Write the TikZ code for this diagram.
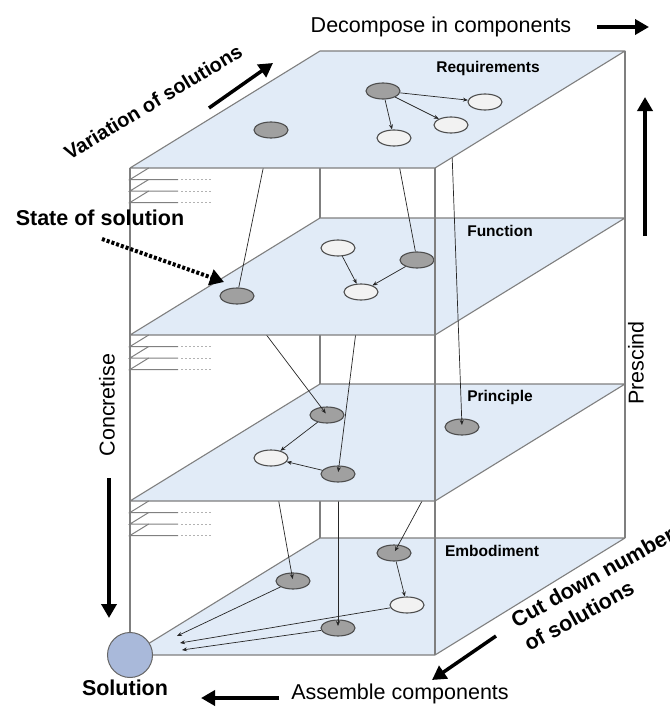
\documentclass[tikz,border=0pt]{standalone}
\usepackage{fontspec}
\setmainfont{Liberation Sans}
\usetikzlibrary{arrows.meta,shapes.geometric}
\definecolor{planefill}{HTML}{E1EBF7}
\definecolor{planeedge}{HTML}{7F7F7F}
\definecolor{gnodefill}{HTML}{A0A0A0}
\definecolor{wnodefill}{HTML}{F2F2F2}
\definecolor{nodeedge}{HTML}{4D4D4D}
\definecolor{solfill}{HTML}{A9B9DA}
\pgfdeclarelayer{back}
\pgfdeclarelayer{pe}\pgfdeclarelayer{ce}
\pgfdeclarelayer{pp}\pgfdeclarelayer{cp}
\pgfdeclarelayer{pf}\pgfdeclarelayer{cf}
\pgfdeclarelayer{pr}
\pgfsetlayers{back,pe,ce,pp,cp,pf,cf,pr,main}
\tikzset{
 plane/.style={fill=planefill,draw=planeedge,line width=1.1pt,line join=round},
 gnode/.style={ellipse,fill=gnodefill,draw=nodeedge,line width=1.1pt,minimum width=34pt,minimum height=16pt,inner sep=0pt},
 wnode/.style={gnode,fill=wnodefill},
 link/.style={draw=black!85,line width=0.7pt,-{Stealth[length=5pt,width=4pt]}},
 plainlink/.style={draw=black!85,line width=0.7pt},
 droplink/.style={link,shorten >=2pt},
 boxedge/.style={draw=planeedge,line width=1.1pt},
 bigarrow/.style={line width=3.5pt,-{Triangle[length=14pt,width=15pt]}},
 biglabel/.style={font=\fontsize{21.5}{27}\selectfont},
 boldlabel/.style={font=\fontsize{21.5}{27}\selectfont\bfseries},
 planelabel/.style={font=\fontsize{15.5}{18}\selectfont\bfseries},
 stackline/.style={draw=black!50,line width=1pt},
 stackdots/.style={draw=black!30,line width=1pt,dash pattern=on 2pt off 2pt},
}
\newcommand\drawplane[1]{\draw[plane] (130,#1) -- (435,#1) -- (625,#1-117) -- (320,#1-117) -- cycle;}
\newcommand\stackmarks[1]{%
 \foreach \i in {1,2,3}{%
  \pgfmathsetmacro\yy{#1+11.5*\i}
  \draw[stackline] (148.7,\yy-11.5) -- (130,\yy) -- (178,\yy);
  \draw[stackdots] (181,\yy) -- (212,\yy);
 }}
\begin{document}
\begin{tikzpicture}[x=1pt,y=-1pt]
\useasboundingbox (0,0) rectangle (669,709);
% back edges
\begin{pgfonlayer}{back}
 \draw[boxedge] (320,51) -- (320,538);
 \draw[boxedge] (625,51) -- (625,538);
\end{pgfonlayer}
% Requirements plane
\begin{pgfonlayer}{pr}
 \drawplane{168}
 \node[gnode] (r1) at (383,91) {};
 \node[wnode] (r2) at (485,102) {};
 \node[wnode] (r3) at (451,125) {};
 \node[wnode] (r4) at (394,138) {};
 \node[gnode] (r5) at (271,130) {};
 \draw[link] (r1) -- (r2);
 \draw[link] (r1) -- (r3);
 \draw[link] (r1) -- (r4);
 \node[planelabel] (lreq) at (488,68) {Requirements};
\end{pgfonlayer}
% Function plane
\begin{pgfonlayer}{pf}
 \drawplane{335}
 \node[wnode] (f1) at (338,248) {};
 \node[gnode] (f2) at (417,260) {};
 \node[gnode] (f3) at (237,296) {};
 \node[wnode] (f4) at (361,292) {};
 \draw[link] (f1) -- (f4);
 \draw[link] (f2) -- (f4);
 \node[planelabel] (lfun) at (500,231) {Function};
\end{pgfonlayer}
% Principle plane
\begin{pgfonlayer}{pp}
 \drawplane{501}
 \node[gnode] (p1) at (327,415) {};
 \node[wnode] (p2) at (271,458) {};
 \node[gnode] (p3) at (338,474) {};
 \node[gnode] (p4) at (462,427) {};
 \draw[link] (p1) -- (p2);
 \draw[link] (p3) -- (p2);
 \node[planelabel] (lpri) at (500,397) {Principle};
\end{pgfonlayer}
% Embodiment plane
\begin{pgfonlayer}{pe}
 \drawplane{655}
 \node[gnode] (e1) at (394,553) {};
 \node[gnode] (e2) at (293,581) {};
 \node[wnode] (e3) at (407,605) {};
 \node[gnode] (e4) at (338,628) {};
 \draw[link] (e1) -- (e3);
 \coordinate (s1) at (177,636);
 \coordinate (s2) at (180,643);
 \coordinate (s3) at (182,650);
 \draw[link] (e2) -- (s1);
 \draw[link] (e3) -- (s2);
 \draw[link] (e4) -- (s3);
 \node[planelabel] (lemb) at (492,551) {Embodiment};
\end{pgfonlayer}
% connectors between planes
\begin{pgfonlayer}{cf}
 \draw[plainlink] (r5.center) -- (f3);
 \draw[plainlink] (r4.center) -- (f2);
 \draw[droplink] (r3.center) -- (p4.center);
\end{pgfonlayer}
\begin{pgfonlayer}{cp}
 \draw[droplink] (f3.center) -- (p1.center);
 \draw[droplink] (f4.center) -- (p3.center);
\end{pgfonlayer}
\begin{pgfonlayer}{ce}
 \draw[droplink] (p2.center) -- (e2.center);
 \draw[droplink] (p3.center) -- (e4.center);
 \draw[droplink] (p4.center) -- (e1.center);
\end{pgfonlayer}
% front edges and stacks
\draw[boxedge] (130,168) -- (130,655);
\draw[boxedge] (435,168) -- (435,655);
\stackmarks{168}
\stackmarks{335}
\stackmarks{501}
% solution
\node[circle,fill=solfill,draw=black!60,line width=1pt,minimum size=45pt,inner sep=0pt] (sol) at (130,655) {};
\node[boldlabel] (lsol) at (125,688) {Solution};
% labels and arrows
\node[biglabel] (ldec) at (441,27) {Decompose in components};
\coordinate (dA) at (597,27); \coordinate (dB) at (649,27);
\draw[bigarrow] (dA) -- (dB);
\node[biglabel] (lasm) at (400,694) {Assemble components};
\coordinate (aA) at (279,698); \coordinate (aB) at (201,698);
\draw[bigarrow] (aA) -- (aB);
\node[biglabel,rotate=90] (lcon) at (107,405) {Concretise};
\coordinate (cA) at (109,478); \coordinate (cB) at (109,618);
\draw[bigarrow] (cA) -- (cB);
\node[biglabel,rotate=90] (lpre) at (636,363) {Prescind};
\coordinate (pA) at (645,236); \coordinate (pB) at (645,97);
\draw[bigarrow] (pA) -- (pB);
\node[boldlabel,font=\fontsize{20}{24}\selectfont\bfseries,rotate=31] (lvar) at (153,102) {Variation of solutions};
\coordinate (vA) at (209,108); \coordinate (vB) at (273,63);
\draw[bigarrow] (vA) -- (vB);
\node[boldlabel,rotate=29,align=left] (lcut) at (599,589) {Cut down number\\of solutions};
\coordinate (kA) at (496,636); \coordinate (kB) at (432,680);
\draw[bigarrow] (kA) -- (kB);
\node[boldlabel] (lsta) at (100,218) {State of solution};
\coordinate (tA) at (102,239); \coordinate (tB) at (224,282);
\draw[line width=4pt,dash pattern=on 3pt off 2pt,-{Triangle[length=14pt,width=16pt]}] (tA) -- (tB);
\end{tikzpicture}
\end{document}
